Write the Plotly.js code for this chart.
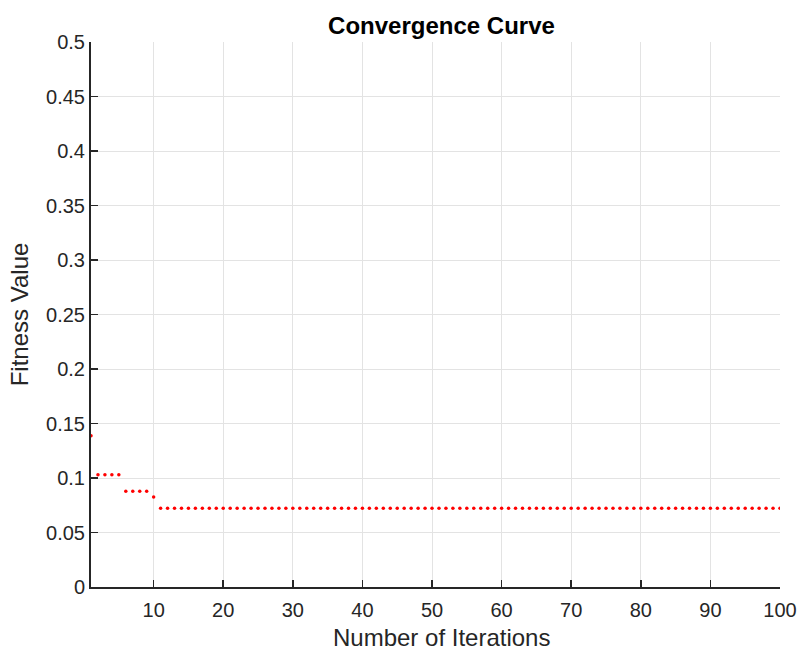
<!DOCTYPE html>
<html>
<head>
<meta charset="utf-8">
<script src="https://cdn.plot.ly/plotly-3.0.1.min.js"></script>
<style>html,body{margin:0;padding:0;background:#fff}#chart{width:802px;height:650px}</style>
</head>
<body>
<div id="chart"></div>
<script>
const iterations = Array.from({length: 100}, (_, i) => i + 1);
const fitness = [
  0.1388, 0.1030, 0.1030, 0.1030, 0.1030, 0.0878, 0.0878, 0.0878, 0.0878, 0.0826,
  0.0722, 0.0722, 0.0722, 0.0722, 0.0722, 0.0722, 0.0722, 0.0722, 0.0722, 0.0722,
  0.0722, 0.0722, 0.0722, 0.0722, 0.0722, 0.0722, 0.0722, 0.0722, 0.0722, 0.0722,
  0.0722, 0.0722, 0.0722, 0.0722, 0.0722, 0.0722, 0.0722, 0.0722, 0.0722, 0.0722,
  0.0722, 0.0722, 0.0722, 0.0722, 0.0722, 0.0722, 0.0722, 0.0722, 0.0722, 0.0722,
  0.0722, 0.0722, 0.0722, 0.0722, 0.0722, 0.0722, 0.0722, 0.0722, 0.0722, 0.0722,
  0.0722, 0.0722, 0.0722, 0.0722, 0.0722, 0.0722, 0.0722, 0.0722, 0.0722, 0.0722,
  0.0722, 0.0722, 0.0722, 0.0722, 0.0722, 0.0722, 0.0722, 0.0722, 0.0722, 0.0722,
  0.0722, 0.0722, 0.0722, 0.0722, 0.0722, 0.0722, 0.0722, 0.0722, 0.0722, 0.0722,
  0.0722, 0.0722, 0.0722, 0.0722, 0.0722, 0.0722, 0.0722, 0.0722, 0.0722, 0.0722
];
const xTickVals = [10, 20, 30, 40, 50, 60, 70, 80, 90, 100];
const xTickText = ['10', '20', '30', '40', '50', '60', '70', '80', '90', '100'];
const yTickVals = [0, 0.05, 0.1, 0.15, 0.2, 0.25, 0.3, 0.35, 0.4, 0.45, 0.5];
const yTickText = ['0', '0.05', '0.1', '0.15', '0.2', '0.25', '0.3', '0.35', '0.4', '0.45', '0.5'];
const chartTitle = 'Convergence Curve';
const xTitle = 'Number of Iterations';
const yTitle = 'Fitness Value';

const font = 'Liberation Sans, Arial, Helvetica, sans-serif';
const axisColor = '#262626';

Plotly.newPlot('chart', [{
  x: iterations,
  y: fitness,
  type: 'scatter',
  mode: 'markers',
  marker: {color: '#ff0000', size: 3.5},
  hoverinfo: 'x+y'
}], {
  width: 802, height: 650,
  margin: {l: 91, r: 22, t: 42, b: 63},
  paper_bgcolor: '#ffffff',
  plot_bgcolor: '#ffffff',
  showlegend: false,
  font: {family: font, color: axisColor, size: 20},
  title: {
    text: '<b>' + chartTitle + '</b>',
    font: {family: font, size: 24, color: '#000000'},
    x: 0.5087, xref: 'paper', xanchor: 'center',
    y: 0.961, yref: 'container', yanchor: 'middle'
  },
  annotations: [{
    text: xTitle, showarrow: false,
    xref: 'paper', yref: 'paper', x: 0.5087, y: 0,
    xanchor: 'center', yanchor: 'middle', yshift: -50,
    font: {family: font, size: 24, color: axisColor}
  }],
  xaxis: {
    range: [1, 100],
    tickvals: xTickVals, ticktext: xTickText,
    ticks: 'inside', ticklen: 7, tickwidth: 1.5, tickcolor: axisColor,
    showline: true, linecolor: axisColor, linewidth: 2,
    showgrid: true, gridcolor: '#e3e3e3', gridwidth: 1,
    zeroline: false, mirror: false,
    ticklabelstandoff: 4,
    tickfont: {family: font, size: 20, color: axisColor}
  },
  yaxis: {
    range: [0, 0.5],
    tickvals: yTickVals, ticktext: yTickText,
    ticks: 'inside', ticklen: 7, tickwidth: 1.5, tickcolor: axisColor,
    showline: true, linecolor: axisColor, linewidth: 2,
    showgrid: true, gridcolor: '#e3e3e3', gridwidth: 1,
    zeroline: false, mirror: false,
    tickfont: {family: font, size: 20, color: axisColor},
    title: {text: yTitle, font: {family: font, size: 24, color: axisColor}, standoff: 11}
  }
}, {displayModeBar: false, staticPlot: true});
</script>
</body>
</html>
